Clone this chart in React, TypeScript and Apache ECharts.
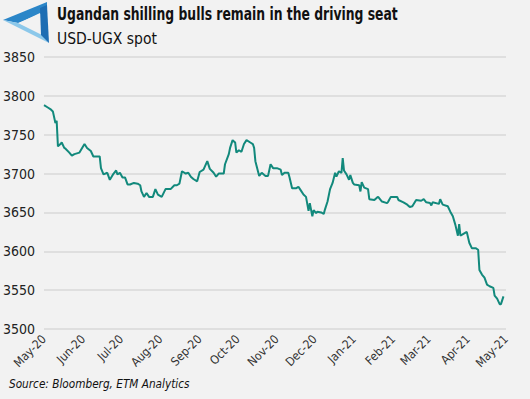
import React, { useEffect, useRef } from "react";
import * as echarts from "echarts";

const dates: string[] = [
  "2020-05-01","2020-05-04","2020-05-06","2020-05-08","2020-05-10","2020-05-11","2020-05-12","2020-05-14","2020-05-15","2020-05-17",
  "2020-05-18","2020-05-21","2020-05-23","2020-05-25","2020-05-29","2020-06-02","2020-06-04","2020-06-07","2020-06-09","2020-06-14",
  "2020-06-15","2020-06-17","2020-06-20","2020-06-22","2020-06-25","2020-06-27","2020-06-28","2020-06-30","2020-07-02","2020-07-04",
  "2020-07-06","2020-07-08","2020-07-11","2020-07-14","2020-07-16","2020-07-17","2020-07-19","2020-07-21","2020-07-23","2020-07-26",
  "2020-07-28","2020-07-30","2020-08-02","2020-08-05","2020-08-07","2020-08-09","2020-08-12","2020-08-14","2020-08-16","2020-08-18",
  "2020-08-21","2020-08-23","2020-08-25","2020-08-27","2020-08-30","2020-09-01","2020-09-04","2020-09-07","2020-09-09","2020-09-12",
  "2020-09-14","2020-09-16","2020-09-20","2020-09-21","2020-09-24","2020-09-25","2020-09-27","2020-09-29","2020-09-30","2020-10-02",
  "2020-10-04","2020-10-06","2020-10-08","2020-10-11","2020-10-13","2020-10-14","2020-10-15","2020-10-18","2020-10-20","2020-10-23",
  "2020-10-25","2020-10-27","2020-10-29","2020-11-01","2020-11-04","2020-11-05","2020-11-07","2020-11-10","2020-11-11","2020-11-13",
  "2020-11-16","2020-11-18","2020-11-20","2020-11-22","2020-11-24","2020-11-26","2020-11-27","2020-11-29","2020-11-30","2020-12-02",
  "2020-12-03","2020-12-06","2020-12-08","2020-12-09","2020-12-11","2020-12-13","2020-12-15","2020-12-17","2020-12-18","2020-12-20",
  "2020-12-22","2020-12-23","2020-12-24","2020-12-26","2020-12-28","2020-12-29","2020-12-31","2021-01-01","2021-01-05","2021-01-06",
  "2021-01-07","2021-01-09","2021-01-12","2021-01-13","2021-01-17","2021-01-19","2021-01-20","2021-01-23","2021-01-27","2021-01-28",
  "2021-01-30","2021-02-04","2021-02-05","2021-02-09","2021-02-12","2021-02-14","2021-02-16","2021-02-19","2021-02-23","2021-02-25",
  "2021-02-27","2021-03-02","2021-03-03","2021-03-04","2021-03-09","2021-03-10","2021-03-12","2021-03-16","2021-03-18","2021-03-20",
  "2021-03-22","2021-03-24","2021-03-25","2021-03-26","2021-03-28","2021-03-31","2021-04-02","2021-04-04","2021-04-07","2021-04-09",
  "2021-04-10","2021-04-12","2021-04-14","2021-04-16","2021-04-18","2021-04-21","2021-04-22","2021-04-24","2021-04-26","2021-04-27",
  "2021-04-29"
];

const usdUgx: number[] = [
  3788,3785,3783,3780,3765,3768,3735,3738,3740,3733,
  3732,3727,3723,3725,3727,3738,3733,3729,3722,3722,
  3707,3699,3701,3692,3700,3704,3699,3701,3695,3695,
  3686,3686,3688,3687,3685,3677,3670,3675,3670,3670,
  3680,3673,3670,3680,3680,3680,3685,3685,3687,3703,
  3700,3701,3696,3693,3690,3702,3705,3716,3706,3701,
  3696,3700,3700,3712,3725,3733,3743,3740,3727,3730,
  3728,3738,3743,3740,3738,3733,3716,3697,3701,3697,
  3697,3712,3707,3707,3705,3698,3701,3701,3695,3681,
  3681,3683,3678,3673,3670,3652,3662,3645,3653,3649,
  3651,3650,3648,3654,3664,3680,3688,3701,3696,3703,
  3701,3720,3704,3699,3692,3698,3688,3686,3685,3677,
  3689,3682,3680,3667,3666,3669,3670,3664,3662,3664,
  3670,3670,3666,3663,3660,3657,3658,3666,3665,3667,
  3663,3662,3659,3663,3661,3667,3660,3658,3651,3645,
  3634,3620,3635,3620,3622,3625,3611,3604,3604,3602,
  3576,3570,3566,3557,3555,3553,3543,3539,3532,3532,
  3542
];

const yTicks: number[] = [3500, 3550, 3600, 3650, 3700, 3750, 3800, 3850];
const monthNames: string[] = ["Jan","Feb","Mar","Apr","May","Jun","Jul","Aug","Sep","Oct","Nov","Dec"];

const titleText = "Ugandan shilling bulls remain in the driving seat";
const subtitleText = "USD-UGX spot";
const sourceText = "Source: Bloomberg, ETM Analytics";

const FONT = "Liberation Sans Narrow, DejaVu Sans Condensed, Liberation Sans";

export default function App() {
  const ref = useRef<HTMLDivElement>(null);
  useEffect(() => {
    if (!ref.current) return;
    const chart = echarts.init(ref.current, undefined, { renderer: "svg" });
    const data = dates.map((d, i) => [d, usdUgx[i]]);
    chart.setOption({
      animation: false,
      backgroundColor: "#f2f2f2",
      grid: { left: 43, right: 24, top: 57, bottom: 70 },
      xAxis: {
        type: "time",
        min: "2020-05-01",
        max: "2021-05-01",
        splitNumber: 12,
        minInterval: 28 * 86400000,
        maxInterval: 31 * 86400000,
        axisLine: { show: false },
        axisTick: { show: false },
        splitLine: { show: false },
        axisLabel: {
          rotate: 45,
          margin: 8,
          color: "#333",
          fontSize: 12,
          fontFamily: FONT,
          showMinLabel: true,
          showMaxLabel: true,
          hideOverlap: false,
          formatter: (v: number) => {
            const d = new Date(v);
            return monthNames[d.getMonth()] + "-" + String(d.getFullYear()).slice(2);
          },
        },
      },
      yAxis: {
        type: "value",
        min: yTicks[0],
        max: yTicks[yTicks.length - 1],
        interval: 50,
        axisLine: { show: false },
        axisTick: { show: false },
        splitLine: { lineStyle: { color: "#d9d9d9", width: 1.5 } },
        axisLabel: {
          align: "left",
          margin: 41,
          color: "#222",
          fontSize: 14,
          fontFamily: FONT,
          formatter: (v: number) => String(v),
        },
      },
      series: [
        {
          type: "line",
          data,
          showSymbol: false,
          lineStyle: { color: "#12897c", width: 2 },
          itemStyle: { color: "#12897c" },
        },
      ],
      graphic: [
        { type: "polygon", shape: { points: [[3, 20], [47, 2], [47, 11], [18, 23]] }, style: { fill: "#2b86c8" } },
        { type: "polygon", shape: { points: [[3, 20], [18, 23], [44, 36], [49, 43]] }, style: { fill: "#8cc8ea" } },
        { type: "polygon", shape: { points: [[40, 8], [47, 5], [49, 43], [41, 35]] }, style: { fill: "#1d6db3" } },
        { type: "polygon", shape: { points: [[19, 23], [40, 13], [40, 33]] }, style: { fill: "#f2f2f2" } },
        {
          type: "text",
          x: 57,
          y: 6,
          scaleX: 0.81,
          style: { text: titleText, fontSize: 17, fontWeight: "bold", fill: "#111", fontFamily: FONT },
        },
        {
          type: "text",
          left: 57,
          top: 31,
          style: { text: subtitleText, fontSize: 15.5, fill: "#111", fontFamily: FONT },
        },
        {
          type: "text",
          left: 9,
          top: 378,
          style: { text: sourceText, fontSize: 11.7, fontStyle: "italic", fill: "#111", fontFamily: FONT },
        },
      ],
    });
    return () => chart.dispose();
  }, []);
  return <div ref={ref} style={{ width: 530, height: 399, position: "fixed", left: 0, top: 0 }} />;
}
